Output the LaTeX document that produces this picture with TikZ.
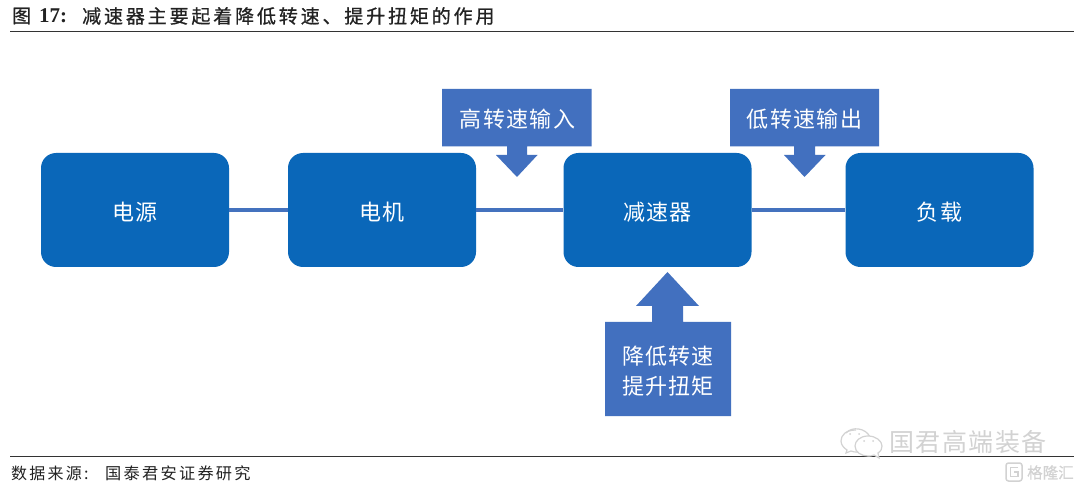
\documentclass[tikz,border=0pt]{standalone}
\usepackage{fontspec}
\setmainfont{Liberation Serif}
\newfontfamily\cjk{Noto Sans CJK SC}
\newfontfamily\cjklabel[LetterSpace=6]{Noto Sans CJK SC}
\newfontfamily\cjktitle[LetterSpace=15,FakeBold=0.8]{Noto Sans CJK SC}
\newfontfamily\cjkfoot[LetterSpace=14]{Noto Sans CJK SC}
\newfontfamily\cjkmark[LetterSpace=6]{Noto Sans CJK SC}
\definecolor{boxblue}{HTML}{0A67B9}
\definecolor{callblue}{HTML}{4270BF}
\definecolor{linkblue}{HTML}{4472BE}
\definecolor{markgray}{HTML}{D2D2D2}
\definecolor{rulegray}{HTML}{333333}
\definecolor{inkdark}{HTML}{222222}
\tikzset{
  mainbox/.style={draw=none,fill=boxblue,rounded corners=15pt,minimum width=188pt,minimum height=114pt,inner sep=0pt,text=white,font=\fontsize{22}{26}\selectfont\cjklabel,text height=21pt,text depth=0pt},
  link/.style={draw=linkblue,line width=3.2pt},
  callbody/.style={fill=callblue,draw=none},
  calltext/.style={text=white,inner sep=0pt,align=center,font=\fontsize{22}{30}\selectfont\cjklabel},
  headrule/.style={draw=rulegray,line width=0.9pt},
  marktext/.style={text=markgray,inner sep=0pt,anchor=west},
  markline/.style={draw=markgray,line width=1.2pt}
}
\begin{document}
\begin{tikzpicture}[x=1pt,y=-1pt]
\useasboundingbox[fill=white] (0,0) rectangle (1080,489);
% title and rules
\node[anchor=west,inner sep=0pt,text=inkdark] (figtitle) at (12,16) {\fontsize{19}{20}\selectfont\cjk\addfontfeature{FakeBold=0.8}图};
\node[anchor=west,inner sep=0pt,text=inkdark] (fignum) at (39,16) {\fontsize{21}{20}\selectfont\bfseries 17:};
\node[anchor=west,inner sep=0pt,text=inkdark] (figcap) at (82,16) {\fontsize{19}{20}\selectfont\cjktitle 减速器主要起着降低转速、提升扭矩的作用};
\coordinate (r1a) at (10,31); \coordinate (r1b) at (1074,31);
\draw[headrule] (r1a) -- (r1b);
\coordinate (r2a) at (10,456.5); \coordinate (r2b) at (1074,456.5);
\draw[headrule] (r2a) -- (r2b);
\node[anchor=west,inner sep=0pt,text=inkdark] (source) at (11,473.5) {\fontsize{16}{18}\selectfont\cjkfoot 数据来源:};
\node[anchor=west,inner sep=0pt,text=inkdark] (sourceb) at (105,473.5) {\fontsize{16.2}{18}\selectfont\cjkfoot 国泰君安证券研究};
% main boxes
\node[mainbox] (power) at (135,210) {电源};
\node[mainbox] (motor) at (382,210) {电机};
\node[mainbox] (reducer) at (657.5,210) {减速器};
\node[mainbox] (load) at (939.5,210) {负载};
\draw[link] (power) -- (motor);
\draw[link] (motor) -- (reducer);
\draw[link] (reducer) -- (load);
% callouts
\fill[callbody] (442,89) -- (591.5,89) -- (591.5,146.5) -- (527,146.5) -- (527,155) -- (537.5,155) -- (517,177) -- (496,155) -- (507,155) -- (507,146.5) -- (442,146.5) -- cycle;
\node[calltext] (hsin) at (517.5,119) {高转速输入};
\fill[callbody] (730,89) -- (879,89) -- (879,146.5) -- (815,146.5) -- (815,155) -- (825.5,155) -- (804.5,177) -- (784,155) -- (794,155) -- (794,146.5) -- (730,146.5) -- cycle;
\node[calltext] (lsout) at (804.5,119) {低转速输出};
\fill[callbody] (605,322) -- (652,322) -- (652,306) -- (636,306) -- (667.5,272) -- (699,306) -- (683,306) -- (683,322) -- (731,322) -- (731,416) -- (605,416) -- cycle;
\node[calltext] (torque) at (668,371.5) {降低转速\\提升扭矩};
% watermark
\node[marktext] (wm) at (889,442) {\fontsize{25}{26}\selectfont\cjkmark 国君高端装备};
\draw[markline] (856,430) .. controls (846,430) and (841,435) .. (841,441) .. controls (841,445) and (844,448) .. (847,450) -- (846,453) -- (851,451) .. controls (853,452) and (855,452) .. (858,452);
\draw[markline] (846,433) .. controls (852,426) and (866,428) .. (870,437);
\draw[markline,fill=white] (868,436) .. controls (860,436) and (855,441) .. (855,446) .. controls (855,452) and (861,456) .. (868,456) .. controls (870,456) and (872,456) .. (874,455) -- (879,458) -- (878,453) .. controls (881,451) and (882,449) .. (882,446) .. controls (882,441) and (876,436) .. (868,436) -- cycle;
\fill[markgray] (864,441) circle (1pt) (873,441) circle (1pt) (850,434) circle (1pt) (859,434) circle (1pt);
\draw[markline,rounded corners=2.5pt,line width=1.5pt] (1006,463) rectangle (1022,481);
\draw[markline,line width=1.5pt] (1018,467.5) -- (1010.5,467.5) -- (1010.5,476.5) -- (1018,476.5) -- (1018,472) -- (1014,472);
\node[marktext] (gelonghui) at (1027,472.5) {\fontsize{15.5}{16}\selectfont\cjk\addfontfeature{FakeBold=0.4}格隆汇};
\end{tikzpicture}
\end{document}
